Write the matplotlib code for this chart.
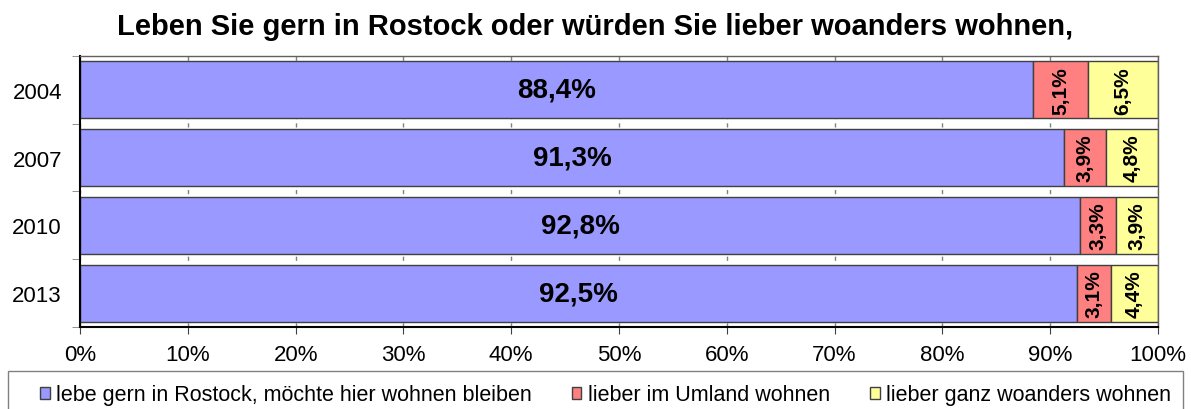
import matplotlib
matplotlib.use("Agg")
import matplotlib.pyplot as plt
from matplotlib.patches import Rectangle
import numpy as np

plt.rcParams["font.family"] = ["Liberation Sans", "DejaVu Sans"]

years = ["2004", "2007", "2010", "2013"]
gern = [88.4, 91.3, 92.8, 92.5]
umland = [5.1, 3.9, 3.3, 3.1]
woanders = [6.5, 4.8, 3.9, 4.4]

series = [
    ("lebe gern in Rostock, möchte hier wohnen bleiben", gern, "#9999FF"),
    ("lieber im Umland wohnen", umland, "#FF8080"),
    ("lieber ganz woanders wohnen", woanders, "#FFFF99"),
]

fig = plt.figure(figsize=(11.91, 4.10), dpi=100)
ax = fig.add_axes([0.0672, 0.2, 0.9051, 0.661])

y = np.arange(len(years))
left = np.zeros(len(years))
for i, (name, vals, color) in enumerate(series):
    vals = np.array(vals)
    ax.barh(y, vals, left=left, height=0.84, color=color, edgecolor="#404040",
            linewidth=1.0, label=name, zorder=2)
    for yi, l, v in zip(y, left, vals):
        txt = f"{v:.1f}%".replace(".", ",")
        if i == 0:
            ax.text(l + v / 2, yi, txt, ha="center", va="center",
                    fontsize=20, fontweight="bold", zorder=3)
        else:
            ax.text(l + v / 2, yi, txt, ha="center", va="center", rotation=90,
                    fontsize=15, fontweight="bold", zorder=3)
    left = left + vals

ax.set_xlim(0, 100)
ax.set_ylim(len(years) - 0.5, -0.5)
ax.set_xticks(np.arange(0, 101, 10))
ax.set_xticklabels([f"{t}%" for t in range(0, 101, 10)], fontsize=16)
ax.set_yticks(y)
ax.set_yticklabels(years, fontsize=16)
ax.tick_params(axis="y", length=0, pad=13)
ax.set_yticks(np.arange(-0.5, len(years)), minor=True)
ax.tick_params(axis="y", which="minor", length=6, color="#808080")
ax.tick_params(axis="x", length=5, color="#404040", pad=7)

ax.xaxis.grid(True, linestyle=(0, (3, 3)), color="#808080", linewidth=1, zorder=0)
ax.set_axisbelow(True)
for s in ["left", "bottom"]:
    ax.spines[s].set_color("black")
    ax.spines[s].set_linewidth(1.5)
for s in ["top", "right"]:
    ax.spines[s].set_color("#606060")
    ax.spines[s].set_linewidth(1.0)

fig.text(0.5, 0.934, "Leben Sie gern in Rostock oder würden Sie lieber woanders wohnen,",
         ha="center", va="center", fontsize=21, fontweight="bold")

# legend frame (runs off the bottom edge as in the original)
fig.patches.append(Rectangle((8 / 1191, -0.05), 1175 / 1191, 0.05 + 1 - 372 / 410,
                             transform=fig.transFigure, fill=False,
                             edgecolor="#808080", linewidth=1.0))

leg = fig.legend(loc="center left", bbox_to_anchor=(40 / 1191, 1 - 396 / 410), ncol=3,
                 fontsize=15.5, frameon=False,
                 handlelength=0.45, handleheight=0.45, handletextpad=0.3,
                 columnspacing=1.85, borderpad=0, borderaxespad=0)

fig.savefig("out.png", dpi=100)
